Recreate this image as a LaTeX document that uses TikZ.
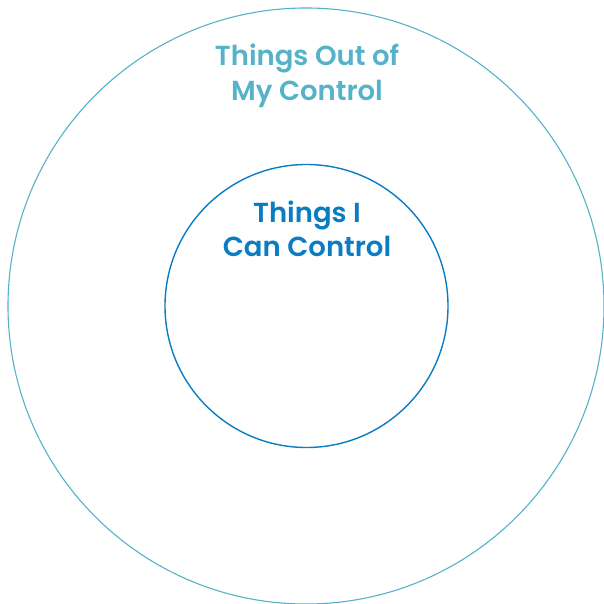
\documentclass[tikz,border=0pt]{standalone}
\usepackage{fontspec}
\setmainfont{Poppins}
\newfontfamily\ringfont{Poppins SemiBold}
\usetikzlibrary{positioning}
\definecolor{outerteal}{HTML}{55B2C8}
\definecolor{innerblue}{HTML}{0A7CC2}

\begin{document}
\begin{tikzpicture}[x=1pt,y=1pt,
	  every node/.style={align=center,draw=none},
	  outerring/.style={circle,draw=outerteal,line width=1.1pt,minimum size=596pt,inner sep=0pt},
	  innerring/.style={circle,draw=innerblue,line width=1.4pt,minimum size=283pt,inner sep=0pt},
	  outerlabel/.style={text=outerteal,font=\ringfont\fontsize{27.5}{35}\selectfont},
	  innerlabel/.style={text=innerblue,font=\ringfont\fontsize{27.5}{34}\selectfont}]

	  \useasboundingbox (0,0) rectangle (603,-604);

	  % the two rings
	  \node[outerring] (outer) at (306,-306) {};
	  \node[innerring] (inner) at (306.5,-306) {};

	  % labels
	  \node[outerlabel] (outertext) at (307,-76) {Things Out of\\My Control};
	  \node[innerlabel] (innertext) at (307,-229) {Things I\\Can Control};

\end{tikzpicture}
\end{document}
